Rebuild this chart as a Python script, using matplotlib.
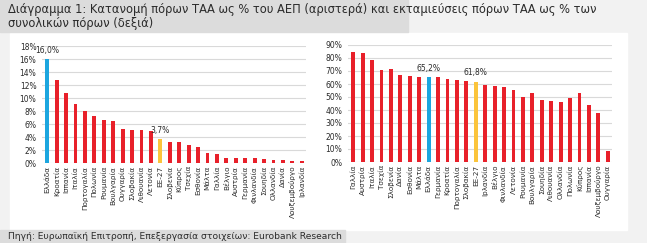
import matplotlib.pyplot as plt
from matplotlib.patches import Rectangle
from matplotlib.ticker import FuncFormatter

# left chart: ΤΑΑ resources as % of GDP
left_countries = ['Ελλάδα', 'Κροατία', 'Ισπανία', 'Ιταλία', 'Πορτογαλία', 'Πολωνία',
                  'Ρουμανία', 'Βουλγαρία', 'Ουγγαρία', 'Σλοβακία', 'Λιθουανία', 'Λετονία',
                  'ΕΕ-27', 'Σλοβενία', 'Κύπρος', 'Τσεχία', 'Εσθονία', 'Μάλτα', 'Γαλλία',
                  'Βέλγιο', 'Αυστρία', 'Γερμανία', 'Φινλανδία', 'Σουηδία', 'Ολλανδία',
                  'Δανία', 'Λουξεμβούργο', 'Ιρλανδία']
left_values = [16.0, 12.7, 10.8, 9.1, 8.0, 7.3, 6.6, 6.5, 5.2, 5.1, 5.1, 4.9,
               3.7, 3.3, 3.2, 2.7, 2.5, 1.5, 1.4, 0.8, 0.8, 0.7, 0.7, 0.6,
               0.5, 0.4, 0.3, 0.3]

# right chart: disbursements as % of total resources
right_countries = ['Γαλλία', 'Αυστρία', 'Ιταλία', 'Τσεχία', 'Σλοβενία', 'Δανία',
                   'Εσθονία', 'Μάλτα', 'Ελλάδα', 'Γερμανία', 'Κροατία', 'Πορτογαλία',
                   'Σλοβακία', 'ΕΕ-27', 'Ιρλανδία', 'Βέλγιο', 'Φινλανδία', 'Λετονία',
                   'Ρουμανία', 'Βουλγαρία', 'Σουηδία', 'Λιθουανία', 'Ολλανδία', 'Πολωνία',
                   'Κύπρος', 'Ισπανία', 'Λουξεμβούργο', 'Ουγγαρία']
right_values = [84.5, 84.0, 78.5, 70.5, 71.5, 67.0, 66.0, 65.5, 65.2, 65.5, 63.5, 63.0,
                62.0, 61.8, 59.0, 58.5, 57.5, 55.0, 50.0, 53.0, 47.5, 47.0, 46.0, 49.0,
                53.0, 43.5, 37.5, 8.5]

RED = '#e8202a'
BLUE = '#1ca6df'
YELLOW = '#fbc43b'
GRID = '#d9d9d9'
TXT = '#2b2b2b'


def bar_colors(names):
    cols = []
    for n in names:
        if n == 'Ελλάδα':
            cols.append(BLUE)
        elif n == 'ΕΕ-27':
            cols.append(YELLOW)
        else:
            cols.append(RED)
    return cols


def pct(v):
    return ('%.1f%%' % v).replace('.', ',')


fig = plt.figure(figsize=(6.47, 2.43), dpi=100)
fig.patch.set_facecolor('#f2f2f2')

# panels / bands
fig.patches.append(Rectangle((10 / 647, 1 - 230 / 243), 617 / 647, 197 / 243,
                             transform=fig.transFigure, color='white', zorder=-2))
fig.patches.append(Rectangle((0, 1 - 32 / 243), 408 / 647, 32 / 243,
                             transform=fig.transFigure, color='#dcdcdc', zorder=-2))
fig.patches.append(Rectangle((0, 0), 345 / 647, 13 / 243,
                             transform=fig.transFigure, color='#dcdcdc', zorder=-2))

fig.text(8 / 647, 1 - 10 / 243,
         'Διάγραμμα 1: Κατανομή πόρων ΤΑΑ ως % του ΑΕΠ (αριστερά) και εκταμιεύσεις πόρων ΤΑΑ ως % των',
         fontsize=8.3, color=TXT, va='center', ha='left')
fig.text(8 / 647, 1 - 23 / 243, 'συνολικών πόρων (δεξιά)',
         fontsize=8.3, color=TXT, va='center', ha='left')
fig.text(8 / 647, 1 - 236 / 243,
         'Πηγή: Ευρωπαϊκή Επιτροπή, Επεξεργασία στοιχείων: Eurobank Research',
         fontsize=6.6, color=TXT, va='center', ha='left')

ax1 = fig.add_axes([42 / 647, 1 - 163 / 243, 264 / 647, 117 / 243])
ax2 = fig.add_axes([348 / 647, 1 - 162 / 243, 264 / 647, 117 / 243])

setups = [(ax1, left_countries, left_values, 18, 2),
          (ax2, right_countries, right_values, 90, 10)]

for ax, names, vals, top, step in setups:
    ax.set_zorder(2)
    x = range(len(names))
    ax.bar(x, vals, width=0.4, color=bar_colors(names), zorder=3)
    ax.set_ylim(0, top)
    ax.set_xlim(-0.55, len(names) - 0.55)
    ax.set_yticks(range(0, top + 1, step))
    ax.yaxis.set_major_formatter(FuncFormatter(lambda v, p: '%d%%' % v))
    ax.set_xticks(list(x))
    ax.set_xticklabels(names, rotation=90, fontsize=5.2, color=TXT)
    ax.tick_params(axis='y', labelsize=5.5, labelcolor=TXT, length=0, pad=4)
    ax.tick_params(axis='x', length=0, pad=2)
    ax.grid(axis='y', color=GRID, linewidth=0.8, zorder=0)
    for s in ax.spines.values():
        s.set_visible(False)
    ax.set_facecolor('none')
    for i, n in enumerate(names):
        if n in ('Ελλάδα', 'ΕΕ-27'):
            ax.annotate(pct(vals[i]), (i, vals[i]), xytext=(0, 3),
                        textcoords='offset points', ha='center', va='bottom',
                        fontsize=5.5, color=TXT)

fig.savefig('out.png', dpi=100, facecolor=fig.get_facecolor())
